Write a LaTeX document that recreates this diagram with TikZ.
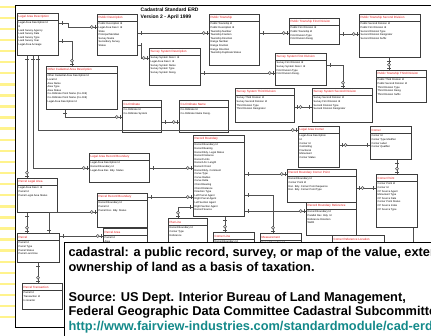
\documentclass[tikz,border=0pt]{standalone}
\usepackage{fontspec}
\setmainfont{Liberation Sans}
\usetikzlibrary{shapes,decorations.markings}

\definecolor{boxline}{RGB}{60,60,60}
\definecolor{relline}{RGB}{80,80,80}
\definecolor{padyellow}{RGB}{255,243,140}
\definecolor{urlteal}{RGB}{20,138,138}
\definecolor{erdred}{RGB}{228,20,20}

% title row and attribute block of one entity (width, height in px)
\newcommand{\ttl}[2]{\parbox[c][3.5pt][c]{\dimexpr#1pt-3pt\relax}{\fontsize{3}{3.5}\selectfont\color{erdred}#2}}
\newcommand{\atr}[3]{\parbox[t][\dimexpr#2pt-8.4pt\relax][t]{\dimexpr#1pt-3pt\relax}{\raggedright#3}}

\begin{document}
\begin{tikzpicture}[x=1pt,y=-1pt]
        \tikzstyle{entity}=[rectangle split, rectangle split parts=2, draw=boxline, line width=1.25pt, fill=white, anchor=north west, inner sep=1pt, font=\fontsize{2.6}{3.6}\selectfont]
        \tikzstyle{rel}=[draw=relline, line width=0.6pt, postaction={decorate}, decoration={markings,
          mark=at position 3pt with {\draw[relline,line width=0.6pt] (0,-1.8pt) -- (0,1.8pt);},
          mark=at position -5.2pt with {\draw[relline,line width=0.5pt,fill=white] (0,0) circle (1.5pt);},
          mark=at position -1.8pt with {\draw[relline,line width=0.6pt] (0,-1.8pt) -- (0,1.8pt);}}]
        \useasboundingbox (0,0) rectangle (431,335);
        \clip (0,0) rectangle (431,335);
        % note paper margin
        \foreach \k in {0,...,28}
          \draw[padyellow, line width=2.4pt] (0,6.7+11.09*\k) -- (14.8,6.7+11.09*\k);
        \draw[black, line width=0.9pt] (440,5.5) -- (15.7,5.5) -- (15.7,327.7) -- (70,327.7);
        \node[anchor=north west, inner sep=0pt, align=left, font=\fontsize{5}{6.3}\selectfont\bfseries] (erdtitle) at (140.5,8) {Cadastral Standard ERD\\Version 2 - April 1999};

        % entities
        \node[entity] (lad) at (17,13) {\ttl{42}{Legal Area Description}\nodepart{two}\atr{42}{40}{Legal Area Description Id\\B\\Land Survey Agency\\Land Survey Date\\Land Survey Type\\Land Survey Year\\Legal Area Acreage}};
        \node[entity] (pd) at (97,14) {\ttl{41}{Public Description}\nodepart{two}\atr{41}{39}{Public Description Id\\Legal Area Descr. Id\\State\\Principal Meridian\\Survey Name\\Secondary Survey\\Status}};
        \node[entity] (pt) at (209,14) {\ttl{51}{Public Township}\nodepart{two}\atr{51}{49}{Public Township Id\\Public Description Id\\Township Number\\Township Fraction\\Township Direction\\Range Number\\Range Fraction\\Range Direction\\Township Duplicate Status}};
        \node[entity] (ptf) at (289,18) {\ttl{51}{Public Township First Division}\nodepart{two}\atr{51}{24}{Public First Division Id\\Public Township Id\\First Division Type\\First Division Desig}};
        \node[entity] (pts) at (359,14) {\ttl{62}{Public Township Second Division}\nodepart{two}\atr{62}{41}{Public Second Division Id\\Public First Division Id\\Second Division Type\\Second Division Designator\\Second Division Suffix}};
        \node[entity] (ptt) at (376,70) {\ttl{51}{Public Township Third Division}\nodepart{two}\atr{51}{30}{Public Third Division Id\\Public Second Division Id\\Third Division Type\\Third Division Desig.\\Third Division Suffix}};
        \node[entity] (ocad) at (46,66) {\ttl{72}{Other Cadastral Area Description}\nodepart{two}\atr{72}{41}{Other Cadastral Area Description Id\\Local Id\\Area Name\\Area Type\\Area Status\\Co-Ordinate Point Name (Co-Ord)\\Co-Ordinate Point Name (Co-Ord)\\Legal Area Description Id}};
        \node[entity] (ssd) at (149,48) {\ttl{52}{Survey System Description}\nodepart{two}\atr{52}{35}{Survey System Descr. Id\\Legal Area Descr. Id\\Survey System Name\\Survey System Type\\Survey System Desig.}};
        \node[entity] (ssf) at (275,53) {\ttl{52}{Survey System First Division}\nodepart{two}\atr{52}{30}{Survey First Division Id\\Survey System Descr. Id\\First Division Type\\First Division Desig.}};
        \node[entity] (sss) at (312,88) {\ttl{61}{Survey System Second Division}\nodepart{two}\atr{61}{32}{Survey Second Division Id\\Survey First Division Id\\Second Division Type\\Second Division Designator}};
        \node[entity] (sst) at (235,88) {\ttl{60}{Survey System Third Division}\nodepart{two}\atr{60}{32}{Survey Third Division Id\\Survey Second Division Id\\Third Division Type\\Third Division Designator}};
        \node[entity] (coord) at (122,100) {\ttl{40}{Co-Ordinate}\nodepart{two}\atr{40}{30}{Co-Ordinate Id\\Co-Ordinate System}};
        \node[entity] (cname) at (179,100) {\ttl{50}{Co-Ordinate Name}\nodepart{two}\atr{50}{30}{Co-Ordinate Id\\Co-Ordinate Name Desig.}};
        \node[entity] (larb) at (89,153) {\ttl{61}{Legal Area Record Boundary}\nodepart{two}\atr{61}{27}{Legal Area Description Id\\Record Boundary Id\\Legal Area Rec. Bdy. Status}};
        \node[entity] (rb) at (193,135) {\ttl{52}{Record Boundary}\nodepart{two}\atr{52}{79}{Record Boundary Id\\Record Bearing\\Record Bdy. Legal Status\\Record Distance\\Record Units\\Record Arc Length\\Record Chord\\Record Bdy. Comment\\Curve Type\\Curve Radius\\Curve Delta\\Chord Bearing\\Chord Distance\\Direction Type\\Left Parcel Agent\\Right Parcel Agent\\Left Section Agent\\Right Section Agent\\Record Source}};
        \node[entity] (plaa) at (17,178) {\ttl{41}{Parcel Legal Area}\nodepart{two}\atr{41}{32}{Legal Area Descr. Id\\Parcel Id\\Parcel Legal Area Status}};
        \node[entity] (prb) at (97,193) {\ttl{51}{Parcel Record Boundary}\nodepart{two}\atr{51}{32}{Record Boundary Id\\Parcel Id\\Parcel Rec. Bdy. Status}};
        \node[entity] (parcel) at (17,233) {\ttl{43}{Parcel}\nodepart{two}\atr{43}{27}{Parcel Id\\Parcel Type\\Parcel Status\\Parcel Land Use}};
        \node[entity] (parea) at (103,228) {\ttl{45}{Parcel Area}\nodepart{two}\atr{45}{26}{Parcel Id\\Area}};
        \node[entity] (ptrans) at (22,283) {\ttl{41}{Parcel Transaction}\nodepart{two}\atr{41}{24}{Parcel Id\\Transaction Id\\Is Grantor}};
        \node[entity] (lac) at (298,126) {\ttl{42}{Legal Area Corner}\nodepart{two}\atr{42}{39}{Legal Area Description\\Id\\Corner Id\\Controlling\\Fractional\\Monument\\Corner Status}};
        \node[entity] (corner) at (370,126) {\ttl{42}{Corner}\nodepart{two}\atr{42}{31}{Corner Id\\Corner Type Modifier\\Corner Label\\Corner Qualifier}};
        \node[entity] (cp) at (376,174) {\ttl{42}{Corner Point}\nodepart{two}\atr{42}{51}{Corner Point Id\\Corner Id\\CP Source Agent\\Monument Type\\CP Source Date\\Corner Point Status\\CP Source Index\\CP Source Type}};
        \node[entity] (rbcp) at (287,169) {\ttl{70}{Record Boundary Corner Point}\nodepart{two}\atr{70}{31}{Record Boundary Id\\Corner Point Id\\Rec. Bdy. Corner Point Sequence\\Rec. Bdy. Corner Point Type}};
        \node[entity] (rbr) at (306,202) {\ttl{51}{Record Boundary Reference}\nodepart{two}\atr{51}{31}{Record Boundary Id\\Parallel Rec. Bdy. Id\\Reference Direction\\Width}};
        \node[entity] (pline) at (168,218) {\ttl{40}{Plat Line}\nodepart{two}\atr{40}{30}{Record Boundary Id\\Corner Type\\Reference}};
        \node[entity] (cline) at (213,232) {\ttl{42}{Corner Line}\nodepart{two}\atr{42}{26}{Record Boundary Id\\Corner Id}};
        \node[entity] (rl) at (260,233) {\ttl{42}{Measurement}\nodepart{two}\atr{42}{26}{Record Boundary Id\\Measure}};
        \node[entity] (crl) at (332,235) {\ttl{53}{Corner Reference Location}\nodepart{two}\atr{53}{26}{Corner Point Id\\Reference}};
        \coordinate (cpdown) at (413,250);

        % relationships
        \draw[rel] ([yshift=-10pt]lad.north east) -- ++(9,0) |- ([yshift=-13pt]pd.north west);
        \draw[rel] ([yshift=-28pt]lad.north east) -| ([xshift=26pt]ocad.north west);
        \draw[rel] ([yshift=-19pt]pd.north east) -- ([yshift=-19pt]pt.north west);
        \draw[rel] ([yshift=-31pt]pd.north east) -- ++(3,0) |- ([yshift=-10pt]ssd.north west);
        \draw[rel] ([yshift=-19pt]pt.north east) -- ([yshift=-15pt]ptf.north west);
        \draw[rel] ([yshift=-16pt]ptf.north east) -- ([yshift=-20pt]pts.north west);
        \draw[rel] ([xshift=30pt]pts.south west) -- ([xshift=13pt]ptt.north west);
        \draw[rel] ([yshift=-25pt]ssd.north east) -- ([yshift=-20pt]ssf.north west);
        \draw[rel] ([yshift=-12pt]ssf.north east) -| ([xshift=31pt]sss.north west);
        \draw[rel] ([yshift=-19pt]sss.north west) -- ([yshift=-19pt]sst.north east);
        \draw[rel] ([xshift=19pt]ocad.south west) |- ([yshift=-17pt]coord.north west);
        \draw[rel] ([yshift=-22pt]coord.north east) -- ([yshift=-22pt]cname.north west);
        \draw[rel] ([xshift=10pt]lad.south west) -- ([xshift=10pt]plaa.north west);
        \draw[rel] ([xshift=16pt]lad.south west) |- ([yshift=-15pt]larb.north west);
        \draw[rel] ([xshift=21pt]lad.south west) |- ([yshift=-4pt]lac.north west);
        \draw[rel] ([yshift=-15pt]larb.north east) -- ([yshift=-33pt]rb.north west);
        \draw[rel] ([yshift=-4pt]prb.north east) -- ([yshift=-62pt]rb.north west);
        \draw[rel] ([xshift=10pt]plaa.south west) -- ([xshift=10pt]parcel.north west);
        \draw[rel] ([xshift=32pt]parcel.north west) |- ([yshift=-19pt]prb.north west);
        \draw[rel] ([yshift=-3pt]parcel.north east) -- ([yshift=-8pt]parea.north west);
        \draw[rel] ([xshift=21pt]parcel.south west) -- ([xshift=16pt]ptrans.north west);
        \draw[rel] ([yshift=-72pt]rb.north west) -| ([xshift=10pt]pline.north west);
        \draw[rel] ([xshift=32pt]rb.south west) -- ([xshift=12pt]cline.north west);
        \draw[rel] ([yshift=-39pt]rb.north east) -- ([yshift=-5pt]rbcp.north west);
        \draw[rel] ([yshift=-60pt]rb.north east) -| ([xshift=13pt]rl.north west);
        \draw[rel] ([yshift=-76pt]rb.north east) -- ([yshift=-9pt]rbr.north west);
        \draw[rel] ([yshift=-19pt]corner.north west) -- ([yshift=-19pt]lac.north east);
        \draw[rel] ([xshift=27pt]corner.south west) -- ([xshift=21pt]cp.north west);
        \draw[rel] ([yshift=-14pt]cp.north west) -- ([yshift=-19pt]rbcp.north east);
        \draw[relline, line width=0.6pt] ([xshift=37pt]cp.south west) -- (cpdown);

        % definition panel
        \draw[black, line width=0.8pt, fill=white] (64.3,242.7) rectangle (470,360);
        \node[anchor=north west, inner sep=0pt, align=left, font=\fontsize{12.8}{14.8}\selectfont\bfseries] (defn) at (68.3,247.3)
          {cadastral: a public record, survey, or map of the value, extent, and\\
           ownership of land as a basis of taxation.\\[14.8pt]
           Source: US Dept. Interior Bureau of Land Management,\\
           Federal Geographic Data Committee Cadastral Subcommittee\\
           \textcolor{urlteal}{http://www.fairview-industries.com/standardmodule/cad-erd.htm}};
\end{tikzpicture}
\end{document}
